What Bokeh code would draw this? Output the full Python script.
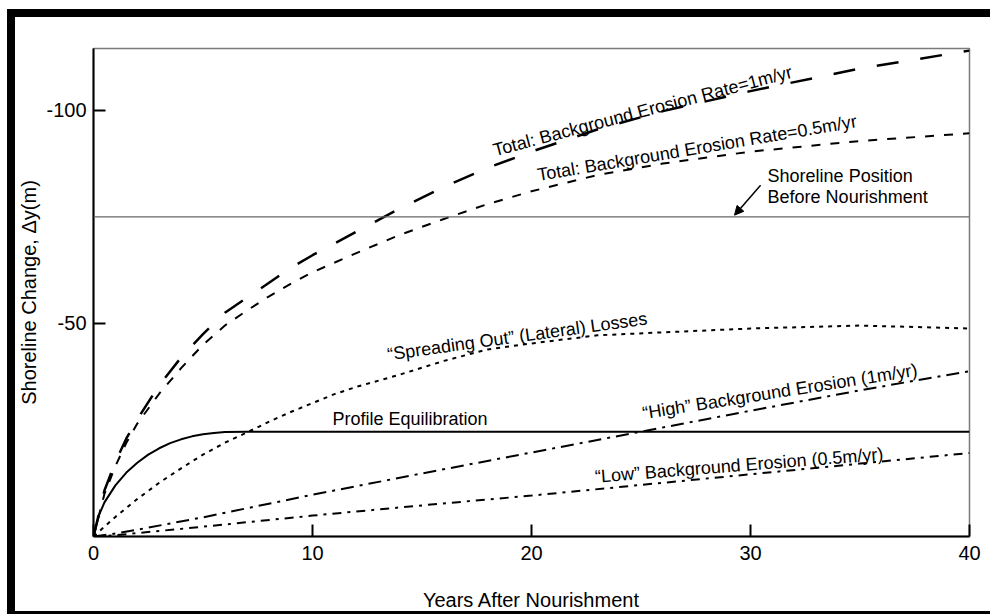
import math
from bokeh.plotting import figure
from bokeh.models import Range1d, FixedTicker, Label, Span, Arrow, NormalHead
from bokeh.embed import file_html
from bokeh.resources import INLINE

# ---------------- data (years, shoreline change in m) ----------------
years_total = [0, 0.5, 1, 1.5, 2, 3, 4, 5, 6, 7, 8, 9, 10, 12, 14, 16, 18, 20, 23, 26, 30, 35, 40]
total_1m = [0, -10.8, -17.5, -23, -27.5, -35.5, -42, -47.5, -52.5, -56, -59.5, -63, -66,
            -71.5, -77, -82, -86.5, -90.3, -95.5, -99.8, -104.5, -109.8, -114]
total_05m = [0, -10, -16.5, -22, -26.5, -33.5, -39.5, -45, -49.5, -53, -56.3, -59.3, -62,
             -66.5, -70.8, -74.5, -78, -81, -84.8, -87.5, -90.3, -92.8, -94.6]

years_spread = [0, 1, 2, 3, 4, 5, 6, 7, 8, 9, 10, 11, 12, 14, 16, 18, 20, 23, 26, 30, 35, 40]
spreading = [0, -4.6, -8.8, -12.6, -16.0, -19.2, -22.0, -24.4, -26.9, -29.2, -31.3, -33.4,
             -35.1, -38.0, -41.2, -43.9, -45.3, -47.2, -47.9, -48.8, -49.5, -48.8]

years_profile = [0, 0.25, 0.5, 1, 1.5, 2, 2.5, 3, 3.5, 4, 4.5, 5, 5.5, 6, 7, 40]
profile = [0, -5, -8, -12, -15, -17.3, -19.2, -20.7, -21.9, -22.8, -23.5, -24.0, -24.3,
           -24.5, -24.6, -24.6]

years_bg = [0, 1, 2, 5, 10, 15, 20, 25, 30, 35, 40]
high_bg = [0, -0.7, -1.6, -4.5, -9.8, -14.8, -19.7, -24.6, -29.5, -34.3, -38.8]
low_bg = [0, -0.3, -0.8, -2.3, -4.9, -7.3, -9.6, -12.1, -14.6, -17.1, -19.6]

shoreline_before = -75

x_ticks = [0, 10, 20, 30, 40]
y_ticks = [-100, -50]
y_tick_labels = {-100: "-100", -50: "-50"}

FONT = "Liberation Sans"

p = figure(width=983, height=605, x_range=Range1d(0, 40), y_range=Range1d(0, -114.5),
           output_backend="svg", toolbar_location=None,
           min_border_left=78, min_border_right=29, min_border_top=31, min_border_bottom=86,
           background_fill_color="white", border_fill_color="white")
# thick black frame around the whole figure
p.styles = {"border-left": "8px solid black", "border-top": "8px solid black",
            "border-bottom": "3px solid black", "margin-left": "7px", "margin-top": "9px",
            "overflow": "hidden"}
p.xgrid.visible = False
p.ygrid.visible = False
p.outline_line_color = "#7a7a7a"
p.outline_line_width = 1.5

# axes
p.xaxis.ticker = FixedTicker(ticks=x_ticks)
p.yaxis.ticker = FixedTicker(ticks=y_ticks)
p.yaxis.major_label_overrides = y_tick_labels
for ax in (p.xaxis[0], p.yaxis[0]):
    ax.axis_line_color = "black"
    ax.axis_line_width = 2
    ax.major_tick_line_color = "black"
    ax.major_tick_line_width = 2
    ax.major_tick_in = 12
    ax.major_tick_out = 0
    ax.minor_tick_line_color = None
    ax.major_label_text_font = FONT
    ax.major_label_text_font_size = "20px"
    ax.major_label_text_color = "black"
    ax.axis_label_text_font = FONT
    ax.axis_label_text_font_size = "20px"
    ax.axis_label_text_font_style = "normal"
    ax.axis_label_text_color = "black"
p.xaxis.axis_label = "Years After Nourishment"
p.xaxis.major_label_standoff = 9
p.xaxis.axis_label_standoff = 26
p.yaxis.axis_label = "Shoreline Change, Δy(m)"
p.yaxis.major_label_standoff = 7
p.yaxis.axis_label_standoff = 3

# shoreline before nourishment
p.add_layout(Span(location=shoreline_before, dimension="width", line_color="#666666",
                  line_width=1.3))

# curves
p.line(years_total, total_1m, line_color="black", line_width=2.5, line_dash="22 22")
p.line(years_total, total_05m, line_color="black", line_width=2, line_dash="9 10")
p.line(years_spread, spreading, line_color="black", line_width=2, line_dash="4 5")
p.line(years_profile, profile, line_color="black", line_width=2)
p.line(years_bg, high_bg, line_color="black", line_width=2, line_dash="13 6 3 6")
p.line(years_bg, low_bg, line_color="black", line_width=2, line_dash="9 6 3 6")


def lab(x, y, text, angle_deg=0.0, dy=5, size="18px"):
    p.add_layout(Label(x=x, y=y, text=text, angle=math.radians(angle_deg), y_offset=dy,
                       text_font=FONT, text_font_size=size, text_color="black",
                       text_baseline="alphabetic", text_align="left"))


lab(18.26, -88.7, "Total: Background Erosion Rate=1m/yr", 14.8, 8)
lab(20.27, -82.9, "Total: Background Erosion Rate=0.5m/yr", 9.6, 8)
lab(30.78, -83.3, "Shoreline Position")
lab(30.78, -78.4, "Before Nourishment")
lab(13.42, -40.6, "“Spreading Out” (Lateral) Losses", 7.9, 9)
lab(10.91, -26.3, "Profile Equilibration")
lab(25.07, -26.8, "“High” Background Erosion (1m/yr)", 9.0, 9)
lab(22.9, -12.4, "“Low” Background Erosion (0.5m/yr)", 4.5, 7)

p.add_layout(Arrow(end=NormalHead(size=9, fill_color="black", line_color="black"),
                   x_start=30.46, y_start=-82.4, x_end=29.27, y_end=-75.4,
                   line_width=1.5, line_color="black"))

open("out.html", "w").write(file_html(p, INLINE))
